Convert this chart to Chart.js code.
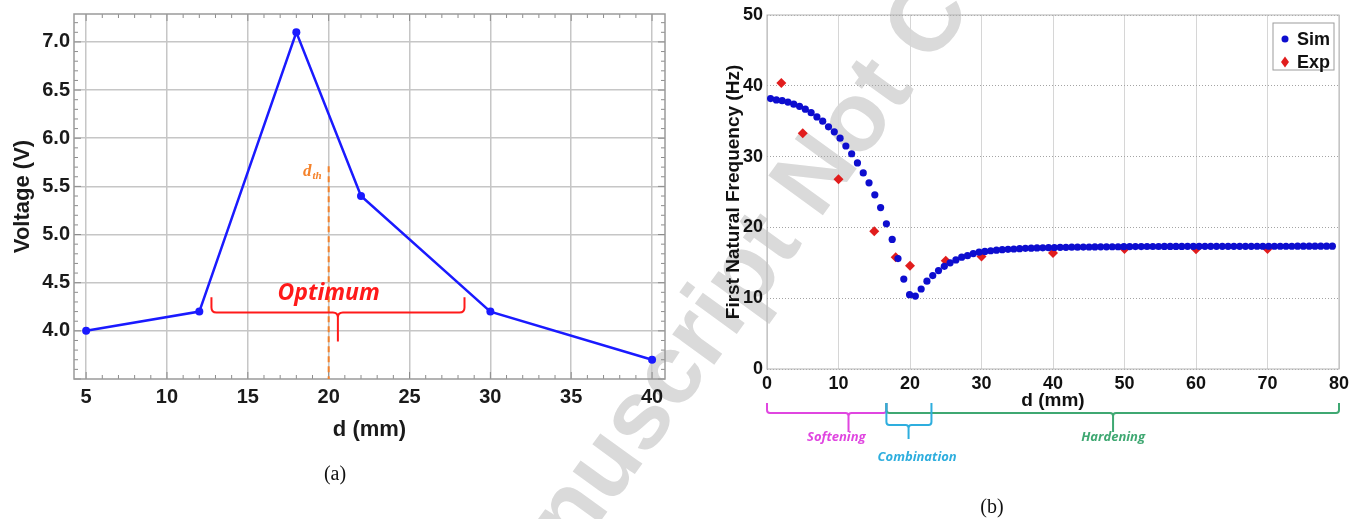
<!DOCTYPE html>
<html>
<head>
<meta charset="utf-8">
<title>Voltage and first natural frequency vs d</title>
<script src="https://cdn.jsdelivr.net/npm/chart.js@4.4.1/dist/chart.umd.min.js"></script>
<style>
  html, body { margin: 0; padding: 0; background: #fff; }
  #stage { position: relative; width: 1353px; height: 519px; overflow: hidden; }
  #stage canvas { position: absolute; top: 0; }
  #mark { left: 0; }
  #voltChart { left: 0; }
  #freqChart { left: 690px; }
  .cap { position: absolute; font: 20px 'Liberation Serif', 'Times New Roman', serif; color: #111; transform: translate(-50%, -50%); }
</style>
</head>
<body>
<div id="stage">
  <canvas id="mark" width="1353" height="519"></canvas>
  <canvas id="voltChart" width="690" height="519"></canvas>
  <canvas id="freqChart" width="663" height="519"></canvas>
  <div class="cap" style="left:335px; top:473px">(a)</div>
  <div class="cap" style="left:992px; top:506px">(b)</div>
</div>
<script>
/* ============================
   DATA
   ============================ */

// (a) voltage against distance d
const voltD = [5, 12, 18, 22, 30, 40];
const voltV = [4.0, 4.2, 7.1, 5.4, 4.2, 3.7];
const voltXTicks = [5, 10, 15, 20, 25, 30, 35, 40];
const voltYTicks = [4.0, 4.5, 5.0, 5.5, 6.0, 6.5, 7.0];

// threshold distance line and the "Optimum" brace (data units)
const dThreshold = 20;
const dThresholdTop = 5.71;
const optimumRange = [12.75, 28.4];
const optimumMid = 20.57;
const optimumBraceY = [4.35, 4.19, 3.89]; // tips, bar, stem end
const optimumLabel = [20.0, 4.32];

// (b) first natural frequency, simulation
const simD = [
  0.50, 1.31, 2.12, 2.93, 3.74, 4.55, 5.36, 6.17, 6.98, 7.79,
  8.60, 9.41, 10.22, 11.03, 11.84, 12.65, 13.46, 14.27, 15.08, 15.89,
  16.70, 17.51, 18.32, 19.13, 19.94, 20.75, 21.56, 22.37, 23.18, 23.99,
  24.80, 25.61, 26.42, 27.23, 28.04, 28.85, 29.66, 30.47, 31.28, 32.09,
  32.90, 33.71, 34.52, 35.33, 36.14, 36.95, 37.76, 38.57, 39.38, 40.19,
  41.00, 41.81, 42.62, 43.43, 44.24, 45.05, 45.86, 46.67, 47.48, 48.29,
  49.10, 49.91, 50.72, 51.53, 52.34, 53.15, 53.96, 54.77, 55.58, 56.39,
  57.20, 58.01, 58.82, 59.63, 60.44, 61.25, 62.06, 62.87, 63.68, 64.49,
  65.30, 66.11, 66.92, 67.73, 68.54, 69.35, 70.16, 70.97, 71.78, 72.59,
  73.40, 74.21, 75.02, 75.83, 76.64, 77.45, 78.26, 79.07
];
const simF = [
  38.2, 38.0, 37.9, 37.7, 37.4, 37.1, 36.7, 36.2, 35.6, 35.0,
  34.2, 33.5, 32.6, 31.5, 30.4, 29.1, 27.7, 26.3, 24.6, 22.8,
  20.5, 18.3, 15.6, 12.7, 10.5, 10.3, 11.3, 12.4, 13.2, 13.9,
  14.5, 15.0, 15.4, 15.8, 16.0, 16.3, 16.5, 16.6, 16.7, 16.78,
  16.85, 16.9, 16.95, 17.0, 17.04, 17.07, 17.1, 17.12, 17.14, 17.16,
  17.18, 17.19, 17.2, 17.21, 17.22, 17.23, 17.24, 17.25, 17.26, 17.27,
  17.27, 17.28, 17.28, 17.29, 17.29, 17.3, 17.3, 17.3, 17.31, 17.31,
  17.31, 17.31, 17.32, 17.32, 17.32, 17.32, 17.32, 17.33, 17.33, 17.33,
  17.33, 17.33, 17.33, 17.33, 17.34, 17.34, 17.34, 17.34, 17.34, 17.34,
  17.34, 17.35, 17.35, 17.35, 17.35, 17.35, 17.35, 17.35
];

// (b) experiment
const expD = [2, 5, 10, 15, 18, 20, 25, 30, 40, 50, 60, 70];
const expF = [40.4, 33.3, 26.8, 19.45, 15.8, 14.6, 15.3, 15.9, 16.4, 16.95, 16.9, 16.95];

const freqXTicks = [0, 10, 20, 30, 40, 50, 60, 70, 80];
const freqYTicks = [0, 10, 20, 30, 40, 50];

// regimes marked under the d axis
const regimeNames = ['Softening', 'Combination', 'Hardening'];
const regimeStart = [0, 16.7, 16.7];
const regimeEnd = [16.7, 23.0, 80];
const regimeMid = [11.4, 19.8, 48.4];
const regimeLabelD = [9.7, 21.0, 48.4];
const regimeColors = ['#e046e0', '#2eaede', '#3fa872'];

/* ============================
   HELPERS
   ============================ */

const SANS = "'Liberation Sans', Arial, sans-serif";
Chart.defaults.font.family = SANS;

function line(ctx, x1, y1, x2, y2) {
  ctx.beginPath();
  ctx.moveTo(x1, y1);
  ctx.lineTo(x2, y2);
  ctx.stroke();
}

// brace opening upward with a stem pointing down at xm
function drawBrace(ctx, x1, x2, xm, yTip, yBar, yStem, r) {
  ctx.beginPath();
  ctx.moveTo(x1, yTip);
  ctx.lineTo(x1, yBar - r);
  ctx.quadraticCurveTo(x1, yBar, x1 + r, yBar);
  ctx.lineTo(xm - r, yBar);
  ctx.quadraticCurveTo(xm, yBar, xm, yBar + r);
  ctx.lineTo(xm, yStem);
  ctx.moveTo(xm, yBar + r);
  ctx.quadraticCurveTo(xm, yBar, xm + r, yBar);
  ctx.lineTo(x2 - r, yBar);
  ctx.quadraticCurveTo(x2, yBar, x2, yBar - r);
  ctx.lineTo(x2, yTip);
  ctx.stroke();
}

function fixedTicks(values) {
  return scale => { scale.ticks = values.map(v => ({ value: v })); };
}

/* ============================
   (a) decorations
   ============================ */

const voltDecor = {
  id: 'voltDecor',
  beforeDatasetsDraw(chart) {
    const { ctx, chartArea: a, scales: { x, y } } = chart;
    ctx.save();
    ctx.strokeStyle = '#8c8c8c';
    ctx.lineWidth = 1;
    for (let v = 5; v <= 40; v++) {
      const px = x.getPixelForValue(v);
      const len = v % 5 === 0 ? 7 : 4;
      line(ctx, px, a.bottom, px, a.bottom - len);
      line(ctx, px, a.top, px, a.top + len);
    }
    for (let i = 35; i <= 72; i++) {
      const py = y.getPixelForValue(i / 10);
      const len = i % 5 === 0 ? 7 : 4;
      line(ctx, a.left, py, a.left + len, py);
      line(ctx, a.right, py, a.right - len, py);
    }
    ctx.strokeStyle = '#9a9a9a';
    ctx.lineWidth = 1.5;
    ctx.strokeRect(a.left, a.top, a.width, a.height);
    ctx.restore();
  },
  afterDatasetsDraw(chart) {
    const { ctx, chartArea: a, scales: { x, y } } = chart;
    ctx.save();

    // threshold line
    const xt = x.getPixelForValue(dThreshold);
    const yt = y.getPixelForValue(dThresholdTop);
    ctx.strokeStyle = '#f5822a';
    ctx.lineWidth = 2;
    ctx.setLineDash([6, 4]);
    line(ctx, xt, yt, xt, a.bottom);
    ctx.setLineDash([]);

    ctx.fillStyle = '#f5822a';
    ctx.textBaseline = 'alphabetic';
    ctx.font = "italic bold 11px 'Liberation Serif', serif";
    const subW = ctx.measureText('th').width;
    ctx.textAlign = 'right';
    ctx.fillText('th', xt - 7, yt + 13);
    ctx.font = "italic bold 17px 'Liberation Serif', serif";
    ctx.fillText('d', xt - 8 - subW, yt + 10);

    // optimum brace
    ctx.strokeStyle = '#ff1a1a';
    ctx.lineWidth = 2;
    drawBrace(ctx,
      x.getPixelForValue(optimumRange[0]), x.getPixelForValue(optimumRange[1]),
      x.getPixelForValue(optimumMid),
      y.getPixelForValue(optimumBraceY[0]), y.getPixelForValue(optimumBraceY[1]),
      y.getPixelForValue(optimumBraceY[2]), 5);

    ctx.fillStyle = '#ff1a1a';
    ctx.textAlign = 'center';
    ctx.font = "italic bold 23px 'Open Sans', sans-serif";
    ctx.fillText('Optimum', x.getPixelForValue(optimumLabel[0]), y.getPixelForValue(optimumLabel[1]));
    ctx.restore();
  }
};

new Chart(document.getElementById('voltChart'), {
  type: 'scatter',
  data: {
    datasets: [{
      label: 'Voltage',
      data: voltD.map((d, i) => ({ x: d, y: voltV[i] })),
      showLine: true,
      borderColor: '#1a1aff',
      backgroundColor: '#1a1aff',
      borderWidth: 2.5,
      pointRadius: 4,
      pointBorderWidth: 0,
    }]
  },
  options: {
    responsive: false,
    animation: false,
    events: [],
    layout: { padding: { top: 14, right: 25, left: 0, bottom: 0 } },
    plugins: { legend: { display: false }, tooltip: { enabled: false } },
    scales: {
      x: {
        type: 'linear', min: 4.25, max: 40.8,
        afterBuildTicks: fixedTicks(voltXTicks),
        afterFit(s) { s.height = 140; s.paddingLeft = 0; s.paddingRight = 0; },
        grid: { color: '#c6c6c6', lineWidth: 1.5, drawTicks: false },
        border: { display: false },
        ticks: { padding: 6, color: '#1a1a1a', font: { size: 20, weight: 'bold' } },
        title: { display: true, text: 'd (mm)', color: '#1a1a1a', font: { size: 22, weight: 'bold' }, padding: { top: 0, bottom: 76 } },
      },
      y: {
        type: 'linear', min: 3.5, max: 7.29,
        afterBuildTicks: fixedTicks(voltYTicks),
        afterFit(s) { s.width = 74; s.paddingTop = 0; s.paddingBottom = 0; },
        grid: { color: '#c6c6c6', lineWidth: 1.5, drawTicks: false },
        border: { display: false },
        ticks: { padding: 4, color: '#1a1a1a', font: { size: 20, weight: 'bold' }, callback: v => v.toFixed(1) },
        title: { display: true, text: 'Voltage (V)', color: '#1a1a1a', font: { size: 22, weight: 'bold' }, padding: { top: 10, bottom: 0 } },
      }
    }
  },
  plugins: [voltDecor]
});

/* ============================
   (b) decorations
   ============================ */

const freqDecor = {
  id: 'freqDecor',
  beforeDatasetsDraw(chart) {
    const { ctx, chartArea: a } = chart;
    ctx.save();
    ctx.strokeStyle = '#b4b4b4';
    ctx.lineWidth = 1;
    ctx.strokeRect(a.left, a.top, a.width, a.height);
    ctx.restore();
  },
  afterDatasetsDraw(chart) {
    const { ctx, chartArea: a, scales: { x } } = chart;
    ctx.save();

    // legend box
    const bx = a.right - 66, by = a.top + 8;
    ctx.fillStyle = '#fff';
    ctx.fillRect(bx, by, 61, 47);
    ctx.strokeStyle = '#9c9c9c';
    ctx.lineWidth = 1;
    ctx.strokeRect(bx, by, 61, 47);
    ctx.font = `bold 18px ${SANS}`;
    ctx.textBaseline = 'middle';
    ctx.textAlign = 'left';
    chart.data.datasets.forEach((ds, i) => {
      const cy = by + 16 + i * 23;
      ctx.fillStyle = ds.backgroundColor;
      ctx.beginPath();
      if (ds.pointStyle === 'rectRot') {
        ctx.moveTo(bx + 12, cy - 5.5);
        ctx.lineTo(bx + 16, cy);
        ctx.lineTo(bx + 12, cy + 5.5);
        ctx.lineTo(bx + 8, cy);
      } else {
        ctx.arc(bx + 12, cy, 3.5, 0, Math.PI * 2);
      }
      ctx.fill();
      ctx.fillStyle = '#111';
      ctx.fillText(ds.label, bx + 24, cy + 1);
    });

    // regime braces under the axis
    const order = [0, 2, 1];
    order.forEach(i => {
      const x1 = x.getPixelForValue(regimeStart[i]);
      const x2 = x.getPixelForValue(regimeEnd[i]);
      const xm = x.getPixelForValue(regimeMid[i]);
      const deep = i === 1;
      ctx.strokeStyle = regimeColors[i];
      ctx.lineWidth = 2;
      drawBrace(ctx, x1, x2, xm, a.bottom + 34, a.bottom + (deep ? 56 : 44), a.bottom + (deep ? 70 : 63), 3);
      ctx.fillStyle = regimeColors[i];
      ctx.font = "italic bold 13px 'Open Sans', sans-serif";
      ctx.textAlign = 'center';
      ctx.textBaseline = 'middle';
      ctx.fillText(regimeNames[i], x.getPixelForValue(regimeLabelD[i]), a.bottom + (deep ? 88 : 68));
    });
    ctx.restore();
  }
};

new Chart(document.getElementById('freqChart'), {
  type: 'scatter',
  data: {
    datasets: [
      {
        label: 'Sim',
        data: simD.map((d, i) => ({ x: d, y: simF[i] })),
        pointStyle: 'circle',
        pointRadius: 3.6,
        backgroundColor: '#0d0dcf',
        pointBorderWidth: 0,
      },
      {
        label: 'Exp',
        data: expD.map((d, i) => ({ x: d, y: expF[i] })),
        pointStyle: 'rectRot',
        pointRadius: 5,
        backgroundColor: '#e11d1d',
        pointBorderWidth: 0,
      }
    ]
  },
  options: {
    responsive: false,
    animation: false,
    events: [],
    layout: { padding: { top: 15, right: 14, left: 0, bottom: 0 } },
    plugins: { legend: { display: false }, tooltip: { enabled: false } },
    scales: {
      x: {
        type: 'linear', min: 0, max: 80,
        afterBuildTicks: fixedTicks(freqXTicks),
        afterFit(s) { s.height = 150; s.paddingLeft = 0; s.paddingRight = 0; },
        grid: { color: '#d6d6d6', lineWidth: 1, drawTicks: false },
        border: { display: false },
        ticks: { padding: 4, color: '#111', font: { size: 18, weight: 'bold' } },
        title: { display: true, text: 'd (mm)', color: '#111', font: { size: 19, weight: 'bold' }, padding: { top: 0, bottom: 107 } },
      },
      y: {
        type: 'linear', min: 0, max: 50,
        afterBuildTicks: fixedTicks(freqYTicks),
        afterFit(s) { s.width = 77; s.paddingTop = 0; s.paddingBottom = 0; },
        grid: { color: '#a4a4a4', lineWidth: 1, drawTicks: false },
        border: { display: false, dash: [1, 2] },
        ticks: { padding: 4, color: '#111', font: { size: 18, weight: 'bold' } },
        title: { display: true, text: 'First Natural Frequency (Hz)', color: '#111', font: { size: 19, weight: 'bold' }, padding: { top: 32, bottom: 0 } },
      }
    }
  },
  plugins: [freqDecor]
});

/* ============================
   watermark behind both panels
   ============================ */

(function drawWatermark() {
  const ctx = document.getElementById('mark').getContext('2d');
  const text = 'Accepted Manuscript Not Copyedited';
  ctx.font = `bold 98px ${SANS}`;
  const before = ctx.measureText('Accepted Manuscript ').width;
  const nW = ctx.measureText('N').width;
  ctx.save();
  ctx.translate(818, 176);
  ctx.rotate(-54 * Math.PI / 180);
  ctx.fillStyle = '#dadada';
  ctx.textBaseline = 'middle';
  ctx.fillText(text, -(before + nW / 2), 0);
  ctx.restore();
})();
</script>
</body>
</html>
